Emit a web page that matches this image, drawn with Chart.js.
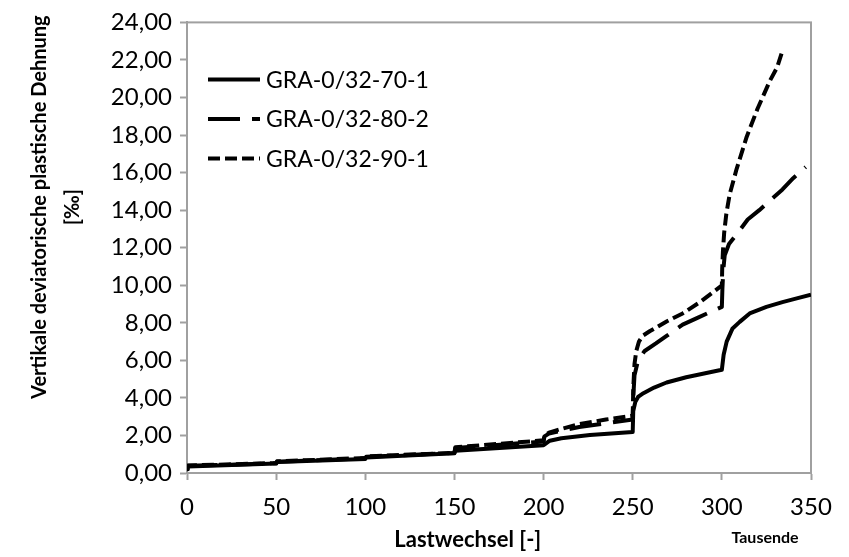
<!DOCTYPE html>
<html>
<head>
<meta charset="utf-8">
<script src="https://cdn.jsdelivr.net/npm/chart.js@4.4.1/dist/chart.umd.min.js"></script>
<style>
  html, body { margin: 0; padding: 0; background: #ffffff; }
  #wrap { width: 849px; height: 557px; position: relative; }
</style>
</head>
<body>
<div id="wrap"><canvas id="c" width="849" height="557"></canvas></div>
<script>
// ---- Data (Lastwechsel in Tausende, Dehnung in ‰) ----
const seriesNames = ['GRA-0/32-70-1', 'GRA-0/32-80-2', 'GRA-0/32-90-1'];

const cycles70 = [0, 0.5, 50, 50.5, 100, 100.5, 150, 150.5, 200, 201, 203.5, 210, 226, 240, 250, 250.3, 251.5, 253, 256, 262, 269, 280, 290, 300, 301, 302.7, 306, 310, 315.6, 325, 334, 342, 350];
const strain70 = [0.2, 0.35, 0.5, 0.58, 0.75, 0.82, 1.05, 1.18, 1.48, 1.55, 1.72, 1.85, 2.02, 2.12, 2.18, 3.3, 3.8, 4.05, 4.25, 4.55, 4.82, 5.1, 5.3, 5.5, 6.3, 7.0, 7.7, 8.05, 8.5, 8.85, 9.1, 9.3, 9.5];

const cycles80 = [0, 0.5, 50, 50.5, 100, 100.5, 150, 150.5, 200, 200.5, 203, 210, 220, 235, 250, 250.3, 251, 253, 256.7, 263, 269, 278, 286, 294, 300, 300.3, 300.8, 301.6, 304, 309, 314.5, 321, 328, 334, 340, 347];
const strain80 = [0.25, 0.38, 0.52, 0.6, 0.78, 0.86, 1.07, 1.33, 1.68, 1.95, 2.1, 2.25, 2.45, 2.65, 2.85, 4.0, 5.2, 6.0, 6.5, 6.9, 7.3, 7.9, 8.25, 8.6, 8.85, 9.8, 10.8, 11.6, 12.2, 12.8, 13.5, 14.0, 14.6, 15.1, 15.7, 16.3];

const cycles90 = [0, 0.5, 50, 50.5, 100, 100.5, 150, 150.5, 200, 200.5, 203, 210, 220, 235, 250, 250.3, 251, 252, 253.5, 255.5, 259.5, 269, 278, 288, 299.5, 300, 300.2, 300.6, 301.3, 302.5, 304.4, 308.3, 313.9, 320, 327, 331, 334];
const strain90 = [0.25, 0.4, 0.53, 0.62, 0.8, 0.88, 1.08, 1.37, 1.74, 2.0, 2.15, 2.35, 2.6, 2.85, 3.05, 4.5, 5.8, 6.5, 7.0, 7.3, 7.55, 8.07, 8.5, 9.12, 9.95, 10.0, 10.9, 11.8, 12.8, 13.8, 14.85, 16.2, 17.9, 19.4, 20.9, 21.6, 22.5];

const xTickStep = 50;
const yTickStep = 2;
const xTitle = 'Lastwechsel [-]';
const yTitleLines = ['Vertikale deviatorische plastische Dehnung', '[‰]'];
const unitLabel = 'Tausende';

const toPoints = (xs, ys) => xs.map((x, i) => ({ x: x, y: ys[i] }));

const dashes = [[], [32, 12], [12, 5]];
const AXIS_GRAY = '#a0a0a0';

const framePlugin = {
  id: 'frame',
  beforeDatasetsDraw(chart) {
    const { ctx, chartArea: a } = chart;
    ctx.save();
    ctx.strokeStyle = AXIS_GRAY;
    ctx.lineWidth = 2;
    ctx.strokeRect(a.left, a.top, a.right - a.left, a.bottom - a.top);
    ctx.restore();
  }
};

const legendPlugin = {
  id: 'innerLegend',
  afterDraw(chart) {
    const { ctx, chartArea: a } = chart;
    ctx.save();
    ctx.font = '23px Lato';
    ctx.textBaseline = 'middle';
    ctx.textAlign = 'left';
    chart.data.datasets.forEach((ds, i) => {
      const y = a.top + 57 + i * 39.5;
      const x0 = a.left + 21;
      ctx.strokeStyle = '#000';
      ctx.lineWidth = 4;
      ctx.setLineDash(ds.borderDash || []);
      ctx.beginPath();
      ctx.moveTo(x0, y);
      ctx.lineTo(x0 + 52, y);
      ctx.stroke();
      ctx.setLineDash([]);
      ctx.fillStyle = '#000';
      ctx.fillText(ds.label, x0 + 58, y + 1);
    });
    ctx.restore();
  }
};

const titlePlugin = {
  id: 'titles',
  afterDraw(chart) {
    const { ctx, chartArea: a, height } = chart;
    ctx.save();
    ctx.fillStyle = '#000';
    // x title
    ctx.font = 'bold 22px Lato';
    ctx.textAlign = 'center';
    ctx.textBaseline = 'middle';
    ctx.fillText(xTitle, a.left + (a.right - a.left) * 0.45, height - 17);
    // unit label
    ctx.font = 'bold 16px Lato';
    ctx.fillText(unitLabel, a.right - 46, height - 19);
    // y title
    ctx.font = 'bold 20px Lato';
    const cy = a.top + (a.bottom - a.top) * 0.41;
    ctx.translate(0, cy);
    ctx.rotate(-Math.PI / 2);
    ctx.fillText(yTitleLines[0], 0, 40);
    ctx.fillText(yTitleLines[1], 0, 73);
    ctx.restore();
  }
};

new Chart(document.getElementById('c'), {
  type: 'line',
  data: {
    datasets: [
      { label: seriesNames[0], data: toPoints(cycles70, strain70), borderDash: dashes[0] },
      { label: seriesNames[1], data: toPoints(cycles80, strain80), borderDash: dashes[1] },
      { label: seriesNames[2], data: toPoints(cycles90, strain90), borderDash: dashes[2] }
    ].map(d => Object.assign(d, {
      borderColor: '#000000',
      backgroundColor: '#000000',
      borderWidth: 4,
      pointRadius: 0,
      tension: 0,
      fill: false,
      borderCapStyle: 'butt',
      borderJoinStyle: 'round'
    }))
  },
  options: {
    responsive: false,
    animation: false,
    devicePixelRatio: 1,
    layout: { padding: { left: 0, right: 38, top: 17, bottom: 0 } },
    plugins: { legend: { display: false }, tooltip: { enabled: false } },
    scales: {
      x: {
        type: 'linear',
        min: 0, max: 350,
        afterFit(scale) { scale.height = 84; },
        ticks: {
          stepSize: xTickStep,
          color: '#000',
          font: { family: 'Lato', size: 24 },
          padding: 13,
          maxRotation: 0
        },
        grid: { drawOnChartArea: false, drawTicks: true, tickLength: 7, tickColor: AXIS_GRAY, tickWidth: 2 },
        border: { display: true, color: AXIS_GRAY, width: 2 }
      },
      y: {
        type: 'linear',
        min: 0, max: 24,
        afterFit(scale) { scale.width = 187; },
        ticks: {
          stepSize: yTickStep,
          color: '#000',
          font: { family: 'Lato', size: 24 },
          padding: 8,
          callback: v => v.toFixed(2).replace('.', ',')
        },
        grid: { drawOnChartArea: false, drawTicks: true, tickLength: 7, tickColor: AXIS_GRAY, tickWidth: 2 },
        border: { display: true, color: AXIS_GRAY, width: 2 }
      }
    }
  },
  plugins: [framePlugin, legendPlugin, titlePlugin]
});
</script>
</body>
</html>
